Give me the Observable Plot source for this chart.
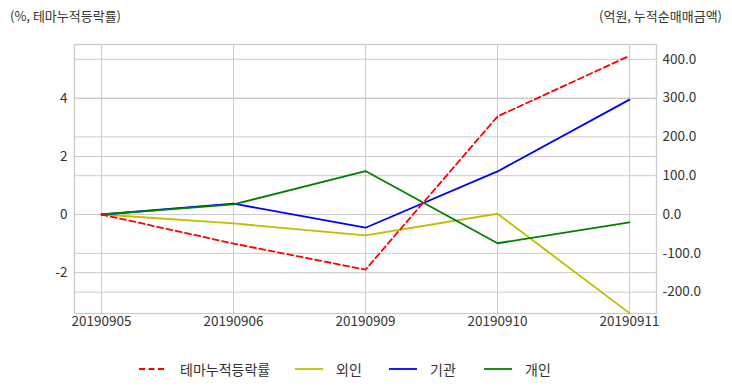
<!DOCTYPE html>
<html>
<head>
<meta charset="utf-8">
<script src="https://cdn.jsdelivr.net/npm/d3@7"></script>
<script src="https://cdn.jsdelivr.net/npm/@observablehq/plot@0.6"></script>
<style>
  html, body { margin: 0; padding: 0; background: #fff; }
  #wrap { position: relative; width: 732px; height: 392px; font-family: "Noto Sans CJK KR", "Noto Sans", sans-serif; color: #333; }
  #wrap svg { position: absolute; left: 0; top: 0; }
  .ttl { position: absolute; top: 6px; font-size: 13px; line-height: 20px; white-space: nowrap; }
  .leg { position: absolute; top: 359px; height: 20px; font-size: 14px; line-height: 20px; white-space: nowrap; }
  .leg svg { position: absolute; top: 0; }
</style>
</head>
<body>
<div id="wrap"></div>
<script>
const dates = ["20190905", "20190906", "20190909", "20190910", "20190911"];
const themeRate = [0, -1.0, -1.9, 3.38, 5.47];      // 테마누적등락률 (%)
const foreign = [0, -23, -54, 2, -254];             // 외인 (억원)
const institution = [0, 28, -34, 111, 296];         // 기관 (억원)
const individual = [0, 26, 112, -74, -20];          // 개인 (억원)
const leftTicks = [-2, 0, 2, 4];
const rightTicks = [-200, -100, 0, 100, 200, 300, 400];
const leftDomain = [-3.41, 5.86];
const rightDomain = [-255, 438];
const seriesNames = ["테마누적등락률", "외인", "기관", "개인"];
const seriesColors = ["#ff0000", "#bfbf00", "#0000ff", "#008000"];

const toLeft = d3.scaleLinear(rightDomain, leftDomain);

const rows = [];
dates.forEach((d, i) => {
  rows.push({date: d, series: seriesNames[0], v: themeRate[i]});
  rows.push({date: d, series: seriesNames[1], v: toLeft(foreign[i])});
  rows.push({date: d, series: seriesNames[2], v: toLeft(institution[i])});
  rows.push({date: d, series: seriesNames[3], v: toLeft(individual[i])});
});

const gridStyle = {stroke: "#cccccc", strokeOpacity: 1, strokeWidth: 1};

const chart = Plot.plot({
  width: 732,
  height: 392,
  marginTop: 44,
  marginBottom: 79,
  marginLeft: 74,
  marginRight: 76,
  style: {fontFamily: '"Noto Sans CJK KR", "Noto Sans", sans-serif', fontSize: "13.5px", color: "#333", background: "transparent"},
  x: {type: "point", domain: dates, padding: 0.2, label: null},
  y: {domain: leftDomain, label: null},
  marks: [
    Plot.gridY(leftTicks, gridStyle),
    Plot.gridY(rightTicks.map(toLeft), gridStyle),
    Plot.gridX(dates, gridStyle),
    Plot.frame({stroke: "#cccccc", strokeWidth: 1.3}),
    Plot.axisY(leftTicks, {anchor: "left", tickSize: 0, tickPadding: 7, tickFormat: d => String(d), fontSize: 13.5, fill: "#333"}),
    Plot.axisY(rightTicks.map(toLeft), {anchor: "right", tickSize: 0, tickPadding: 6, tickFormat: d => Math.round(toLeft.invert(d)).toFixed(1), fontSize: 13.5, fill: "#333"}),
    Plot.axisX(dates, {tickSize: 0, tickPadding: 3, fontSize: 13.5, fill: "#333"}),
    Plot.lineY(rows.filter(r => r.series === seriesNames[1]), {x: "date", y: "v", stroke: seriesColors[1], strokeWidth: 1.8}),
    Plot.lineY(rows.filter(r => r.series === seriesNames[2]), {x: "date", y: "v", stroke: seriesColors[2], strokeWidth: 1.8}),
    Plot.lineY(rows.filter(r => r.series === seriesNames[3]), {x: "date", y: "v", stroke: seriesColors[3], strokeWidth: 1.8}),
    Plot.lineY(rows.filter(r => r.series === seriesNames[0]), {x: "date", y: "v", stroke: seriesColors[0], strokeWidth: 1.8, strokeDasharray: "6,3.5"})
  ]
});

const wrap = document.getElementById("wrap");
wrap.appendChild(chart);

const t1 = document.createElement("div");
t1.className = "ttl"; t1.style.left = "10px"; t1.textContent = "(%, 테마누적등락률)";
wrap.appendChild(t1);
const t2 = document.createElement("div");
t2.className = "ttl"; t2.style.right = "10px"; t2.textContent = "(억원, 누적순매매금액)";
wrap.appendChild(t2);

const legX = [139, 295, 389, 484];
seriesNames.forEach((name, i) => {
  const item = document.createElement("div");
  item.className = "leg";
  item.style.left = legX[i] + "px";
  item.style.paddingLeft = "41px";
  const dash = i === 0 ? ' stroke-dasharray="6,3.5"' : "";
  item.innerHTML = `<svg width="28" height="20" style="left:0"><line x1="0" x2="28" y1="10" y2="10" stroke="${seriesColors[i]}" stroke-width="1.8"${dash}/></svg>${name}`;
  wrap.appendChild(item);
});
</script>
</body>
</html>
